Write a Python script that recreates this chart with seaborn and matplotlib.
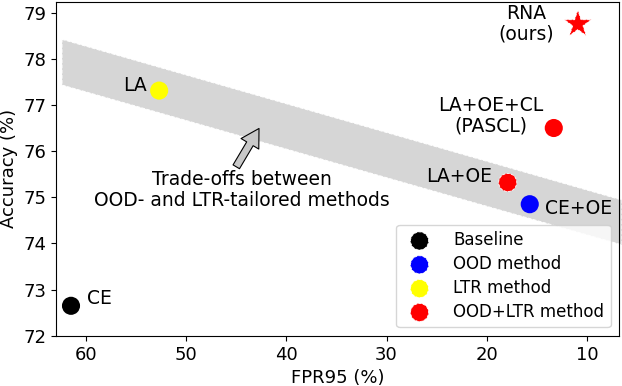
import pandas as pd
import matplotlib.pyplot as plt
import seaborn as sns
from matplotlib.patches import Polygon

methods = ['CE', 'LA', 'CE+OE', 'LA+OE', 'LA+OE+CL\n(PASCL)', 'RNA\n(ours)']
fpr95 = [61.5, 52.7, 15.7, 17.9, 13.3, 10.9]
accuracy = [72.65, 77.31, 74.85, 75.32, 76.50, 78.75]
groups = ['Baseline', 'LTR method', 'OOD method', 'OOD+LTR method', 'OOD+LTR method', 'OOD+LTR method']
legend_order = ['Baseline', 'OOD method', 'LTR method', 'OOD+LTR method']
palette = {'Baseline': 'black', 'OOD method': 'blue', 'LTR method': 'yellow', 'OOD+LTR method': 'red'}

df = pd.DataFrame({'Method': methods, 'FPR95': fpr95, 'Accuracy': accuracy, 'Group': groups})

sns.set_style('ticks', {'axes.edgecolor': 'black', 'xtick.color': 'black', 'ytick.color': 'black',
                        'text.color': 'black', 'axes.labelcolor': 'black'})
plt.rcParams['font.family'] = ['DejaVu Sans']
plt.rcParams['font.size'] = 13.5
plt.rcParams['xtick.labelsize'] = 13
plt.rcParams['ytick.labelsize'] = 13
plt.rcParams['axes.labelsize'] = 13

fig, ax = plt.subplots(figsize=(6.22, 3.86), dpi=100)
fig.subplots_adjust(left=0.09, right=0.995, top=0.995, bottom=0.13)

# trade-off band
band = Polygon([(62.4, 78.42), (6.5, 74.94), (6.5, 73.97), (62.4, 77.43)],
               closed=True, facecolor='#d6d6d6', edgecolor='white', linestyle='--',
               linewidth=0.7, clip_on=False, zorder=1)
ax.add_patch(band)

plain = df[~df['Method'].isin(['LA+OE', 'RNA\n(ours)'])]
sns.scatterplot(data=plain, x='FPR95', y='Accuracy', hue='Group', palette=palette,
                s=170, edgecolor='none', legend=False, ax=ax, zorder=3)
ringed = df[df['Method'] == 'LA+OE']
ax.scatter(ringed['FPR95'], ringed['Accuracy'], s=170, c='red', edgecolors='white',
           linestyle='--', linewidths=0.6, zorder=3)
ours = df[df['Method'] == 'RNA\n(ours)']
ax.scatter(ours['FPR95'], ours['Accuracy'], s=420, c='red', marker='*', edgecolors='white',
           linestyle='--', linewidths=0.6, zorder=3)

# point labels
ax.text(59.9, 72.8, 'CE', ha='left', va='center')
ax.text(53.9, 77.43, 'LA', ha='right', va='center')
ax.text(19.6, 76.76, 'LA+OE+CL\n(PASCL)', ha='center', va='center', linespacing=1.1)
ax.text(16.1, 78.75, 'RNA\n(ours)', ha='center', va='center', linespacing=1.1)
ax.text(19.5, 75.46, 'LA+OE', ha='right', va='center')
ax.text(14.2, 74.75, 'CE+OE', ha='left', va='center')

ax.text(44.4, 75.16, 'Trade-offs between\nOOD- and LTR-tailored methods', ha='center', va='center',
        linespacing=1.1)
ax.annotate('', xy=(42.73, 76.49), xytext=(45.0, 75.66),
            arrowprops=dict(arrowstyle='simple,head_width=1.1,head_length=0.95,tail_width=0.4',
                            facecolor='#c8c8c8', edgecolor='black', linewidth=0.8,
                            shrinkA=0, shrinkB=0))

handles = []
for g in legend_order:
    h = ax.scatter([], [], s=170, c=palette[g], edgecolors='white', linestyle='--', linewidths=0.6, label=g)
    handles.append(h)
ax.legend(handles=handles, loc='lower right', fontsize=12, handletextpad=1.0, borderpad=0.4,
          labelspacing=0.35)

ax.set_xlim(63, 6.8)
ax.set_ylim(72, 79.23)
ax.set_xticks([60, 50, 40, 30, 20, 10])
ax.set_yticks(range(72, 80))
ax.set_xlabel('FPR95 (%)')
ax.set_ylabel('Accuracy (%)')

plt.savefig('out.png', dpi=100)
